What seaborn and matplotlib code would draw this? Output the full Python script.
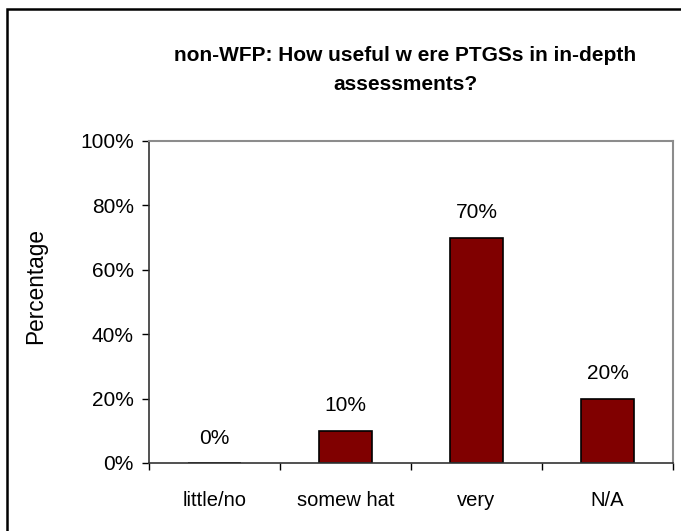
import matplotlib
matplotlib.use("Agg")
import matplotlib.pyplot as plt
from matplotlib.patches import Rectangle
from matplotlib.ticker import PercentFormatter, FixedLocator
import seaborn as sns
import pandas as pd

categories = ["little/no", "somew hat", "very", "N/A"]
shares = [0.0, 0.10, 0.70, 0.20]
value_labels = ["0%", "10%", "70%", "20%"]
y_ticks = [0.0, 0.2, 0.4, 0.6, 0.8, 1.0]
title = "non-WFP: How useful w ere PTGSs in in-depth\nassessments?"
y_title = "Percentage"

sns.set_theme(style="white")
plt.rcParams["font.family"] = ["Liberation Sans", "DejaVu Sans"]

W, H, DPI = 681, 531, 100
fig = plt.figure(figsize=(W / DPI, H / DPI), dpi=DPI)
ax = fig.add_axes([149 / W, 1 - 463 / H, (673 - 149) / W, (463 - 141) / H])

df = pd.DataFrame({"category": categories, "share": shares})
sns.barplot(data=df, x="category", y="share", order=categories, color="#800000",
            saturation=1, edgecolor="black", linewidth=1.2, width=0.41, ax=ax)

ax.set_xlim(-0.5, len(categories) - 0.5)
ax.set_ylim(0, 1)
ax.yaxis.set_major_locator(FixedLocator(y_ticks))
ax.yaxis.set_major_formatter(PercentFormatter(xmax=1, decimals=0))
ax.set_xticks(range(len(categories)))
ax.set_xticklabels(categories)
ax.set_xticks([i - 0.5 for i in range(len(categories) + 1)], minor=True)
ax.tick_params(axis="x", which="major", length=0, pad=20, labelsize=14.5, colors="black")
ax.tick_params(axis="x", which="minor", length=5, width=1, color="black", bottom=True)
ax.tick_params(axis="y", which="major", length=5, width=1, color="black", left=True,
               pad=6, labelsize=15, colors="black")
ax.set_xlabel("")
ax.set_ylabel("")

for side in ("top", "right"):
    ax.spines[side].set_color("#8c8c8c")
    ax.spines[side].set_linewidth(1.5)
for side in ("left", "bottom"):
    ax.spines[side].set_color("#333333")
    ax.spines[side].set_linewidth(1.2)

for i, (v, lab) in enumerate(zip(shares, value_labels)):
    ax.annotate(lab, (i, v), xytext=(0, 18), textcoords="offset points",
                ha="center", va="center", fontsize=15, color="black")

fig.text(36 / W, 1 - 286 / H, y_title, rotation=90, ha="center", va="center",
         fontsize=16.3, color="black")

fig.text(405 / W, 1 - 70 / H, title, ha="center", va="center", fontsize=15,
         fontweight="bold", linespacing=1.65, color="black")

fig.patches.append(Rectangle((7 / W, -0.1), 1.2, 1 - 9 / H + 0.1, transform=fig.transFigure,
                             fill=False, edgecolor="black", linewidth=1.8))

fig.savefig("out.png", dpi=DPI)
